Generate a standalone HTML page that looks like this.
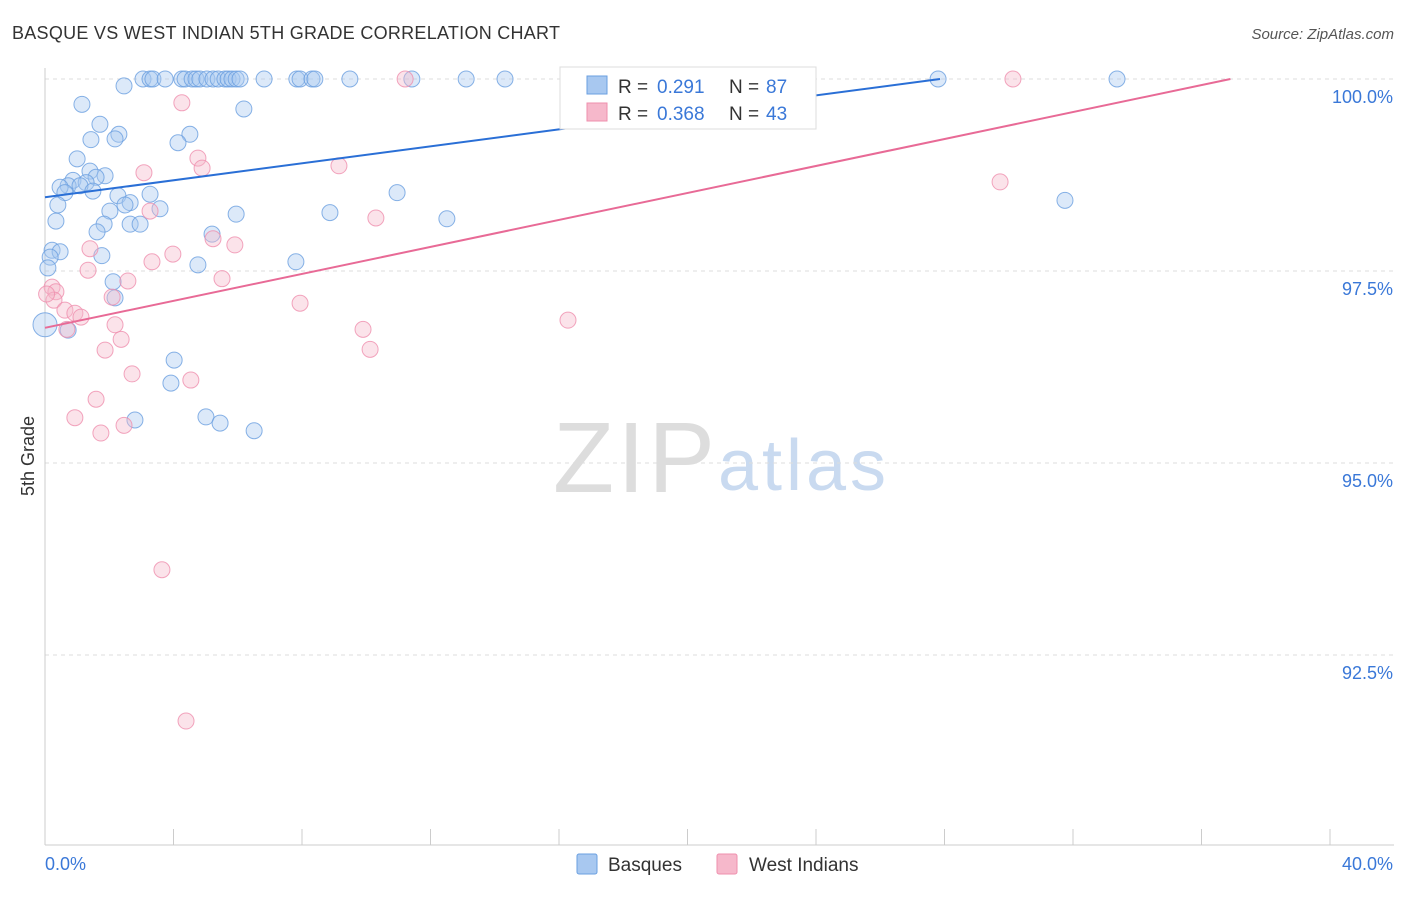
<!DOCTYPE html>
<html><head><meta charset="utf-8"><style>
body{margin:0;background:#fff;font-family:"Liberation Sans",sans-serif;}
svg text{font-family:"Liberation Sans",sans-serif;}
</style></head><body>
<svg id="chart" width="1406" height="892" xmlns="http://www.w3.org/2000/svg">
<text x="12" y="39" font-size="18" fill="#333" textLength="548">BASQUE VS WEST INDIAN 5TH GRADE CORRELATION CHART</text>
<text x="1394" y="39" font-size="15" fill="#555" text-anchor="end" font-style="italic">Source: ZipAtlas.com</text>
<text x="553" y="492" font-size="100" fill="#ddd" font-family="Liberation Serif" textLength="162">ZIP</text>
<text x="718" y="490" font-size="72" fill="#c9daf0" textLength="168">atlas</text>
<text transform="translate(34,456) rotate(-90)" font-size="18" fill="#333" text-anchor="middle">5th Grade</text>
<g id="grid"></g><g id="axes"></g><g id="marks"></g><g id="lines"></g>
<g>
<rect x="560" y="67" width="256" height="62" fill="#fff" stroke="#ddd"/>
<rect x="587" y="76" width="20" height="18" fill="#a8c8f0" stroke="#6a9fe0"/>
<text x="618" y="93" font-size="19" fill="#333">R =</text>
<text x="657" y="93" font-size="19" fill="#3a78d8">0.291</text>
<text x="729" y="93" font-size="19" fill="#333">N =</text>
<text x="766" y="93" font-size="19" fill="#3a78d8">87</text>
<rect x="587" y="103" width="20" height="18" fill="#f6b8cb" stroke="#ef8fae"/>
<text x="618" y="120" font-size="19" fill="#333">R =</text>
<text x="657" y="120" font-size="19" fill="#3a78d8">0.368</text>
<text x="729" y="120" font-size="19" fill="#333">N =</text>
<text x="766" y="120" font-size="19" fill="#3a78d8">43</text>
</g>
<g>
<rect x="577" y="854" width="20" height="20" fill="#a8c8f0" stroke="#6a9fe0" rx="2"/>
<text x="608" y="871" font-size="19" fill="#333">Basques</text>
<rect x="717" y="854" width="20" height="20" fill="#f6b8cb" stroke="#ef8fae" rx="2"/>
<text x="749" y="871" font-size="19" fill="#333">West Indians</text>
</g>
</svg>
<script>
const blueX=[3.05,3.27,3.36,3.74,4.26,4.36,4.58,4.70,4.82,5.04,5.23,5.39,5.60,5.70,5.82,5.95,6.07,6.82,7.84,7.94,8.31,8.40,9.49,11.42,13.11,14.32,20.76,27.80,33.37,
2.46,1.15,6.19,1.71,2.30,4.51,1.43,2.18,4.14,1.00,1.40,1.87,1.59,0.87,0.72,0.47,1.28,1.09,1.49,0.62,2.27,3.27,10.96,0.40,2.65,2.49,2.02,3.58,5.95,8.87,12.51,31.75,0.34,1.84,2.65,2.96,1.62,5.20,0.22,0.47,0.16,1.77,4.76,7.81,0.09,2.12,2.18,0.72,0.0,4.02,3.92,2.80,5.01,5.45,6.51];
const blueY=[100,100,100,100,100,100,100,100,100,100,100,100,100,100,100,100,100,100,100,100,100,100,100,100,100,100,100,100,100,
99.91,99.67,99.61,99.41,99.28,99.28,99.21,99.22,99.17,98.96,98.80,98.74,98.72,98.68,98.61,98.59,98.65,98.61,98.54,98.52,98.48,98.50,98.52,98.36,98.39,98.36,98.28,98.31,98.24,98.26,98.18,98.42,98.15,98.11,98.11,98.11,98.01,97.98,97.77,97.75,97.68,97.70,97.58,97.62,97.54,97.36,97.15,96.73,96.80,96.34,96.04,95.56,95.60,95.52,95.42];
const pinkX=[11.21,23.10,30.13,4.26,4.76,4.89,9.15,3.08,29.73,3.27,10.30,5.23,5.91,1.40,3.98,3.33,1.34,5.51,2.58,0.22,0.34,2.09,7.94,0.28,0.62,0.93,1.12,2.18,0.68,9.90,16.28,2.37,10.12,1.87,2.71,4.54,1.59,0.93,1.74,2.46,3.64,4.39,0.05];
const pinkY=[100,100,100,99.69,98.97,98.84,98.87,98.78,98.66,98.28,98.19,97.92,97.84,97.79,97.72,97.62,97.51,97.40,97.37,97.29,97.23,97.16,97.08,97.12,96.99,96.95,96.90,96.80,96.74,96.74,96.86,96.61,96.48,96.47,96.16,96.08,95.83,95.59,95.39,95.49,93.61,91.64,97.2];
const yTicks=[100,97.5,95,92.5];
const yTickLabels=["100.0%","97.5%","95.0%","92.5%"];
const xEndLabels=["0.0%","40.0%"];
const blueTrend=[98.46,100,27.86];
const pinkTrend=[96.76,100,36.9];
const NS="http://www.w3.org/2000/svg";
const sx=v=>45+v*32.125, sy=v=>79+(100-v)*76.8;
function mk(t,a,p){const e=document.createElementNS(NS,t);for(const k in a)e.setAttribute(k,a[k]);document.getElementById(p).appendChild(e);return e;}
yTicks.forEach((t,i)=>{
 const l=mk('line',{x1:45,x2:1394,y1:sy(t),y2:sy(t),stroke:'#ddd','stroke-dasharray':'4,4'},'grid');
 
 
 const tx=mk('text',{x:1393,y:sy(t)+24,'font-size':18,fill:'#3a78d8','text-anchor':'end'},'axes');tx.textContent=yTickLabels[i];
 
 
});
mk('line',{x1:45,x2:45,y1:68,y2:845,stroke:'#ccc'},'axes');
mk('line',{x1:45,x2:1394,y1:845,y2:845,stroke:'#ccc'},'axes');
for(let i=0;i<=10;i++){const t=mk('line',{x1:sx(i*4),x2:sx(i*4),y1:829,y2:845,stroke:'#ccc'},'axes');
 
 }
const x0=mk('text',{x:45,y:870,'font-size':18,fill:'#3a78d8'},'axes');x0.textContent=xEndLabels[0];


const x1=mk('text',{x:1393,y:870,'font-size':18,fill:'#3a78d8','text-anchor':'end'},'axes');x1.textContent=xEndLabels[1];


function pts(X,Y,f,s,n){X.forEach((x,i)=>{const c=mk('circle',{cx:sx(x),cy:sy(Y[i]),r:(x===0?12:8),fill:f,'fill-opacity':0.4,stroke:s,'stroke-opacity':0.8,'stroke-width':1},'marks');
 
 });}
pts(blueX,blueY,'#a8c8f0','#6a9fe0','basque-point');
pts(pinkX,pinkY,'#f6b8cb','#ef8fae','west-indian-point');
const bl=mk('line',{x1:sx(0),y1:sy(blueTrend[0]),x2:sx(blueTrend[2]),y2:sy(blueTrend[1]),stroke:'#2a6fd6','stroke-width':2},'lines');


const pl=mk('line',{x1:sx(0),y1:sy(pinkTrend[0]),x2:sx(pinkTrend[2]),y2:sy(pinkTrend[1]),stroke:'#e86a96','stroke-width':2},'lines');


</script>
</body></html>
